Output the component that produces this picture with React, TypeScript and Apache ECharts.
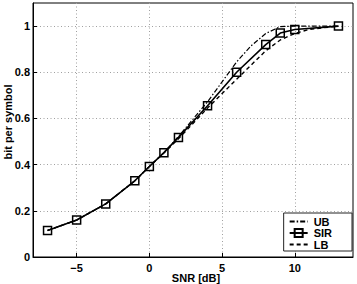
import React, { useEffect, useRef } from "react";
import * as echarts from "echarts";

const snr = [-7, -5, -3, -1, 0, 1, 2, 4, 6, 8, 9, 10, 13];
const sirValues = [0.115, 0.16, 0.23, 0.33, 0.392, 0.452, 0.518, 0.655, 0.8, 0.92, 0.97, 0.985, 1.0];
const ubSnr = [-7, -5, -3, -1, 0, 1, 2, 4, 6, 7, 8, 9, 10, 13];
const ubValues = [0.115, 0.16, 0.23, 0.33, 0.392, 0.452, 0.522, 0.672, 0.845, 0.915, 0.968, 0.998, 1.0, 1.0];
const lbSnr = [-7, -5, -3, -1, 0, 1, 2, 4, 6, 8, 9, 10, 11, 13];
const lbValues = [0.115, 0.16, 0.23, 0.33, 0.392, 0.45, 0.512, 0.645, 0.77, 0.893, 0.94, 0.968, 0.986, 1.0];
const xTicks = [-5, 0, 5, 10];
const yTicks = [0, 0.2, 0.4, 0.6, 0.8, 1];

const FONT = "Liberation Sans";

export default function App() {
  const ref = useRef<HTMLDivElement>(null);
  useEffect(() => {
    if (!ref.current) return;
    const chart = echarts.init(ref.current, null, { renderer: "svg" });
    const pair = (xs: number[], ys: number[]) => xs.map((x, i) => [x, ys[i]]);
    const gridLine = { show: true, lineStyle: { color: "#a0a0a0", width: 1, type: [1, 2.5] as any } };
    chart.setOption({
      animation: false,
      backgroundColor: "#fff",
      textStyle: { fontFamily: FONT },
      grid: {
        left: 33,
        right: 4,
        top: 3,
        bottom: 27,
        containLabel: false,
        outerBoundsMode: "none",
        show: true,
        borderColor: "#000",
        borderWidth: 1,
      },
      xAxis: {
        type: "value",
        min: -8,
        max: 14,
        name: "SNR [dB]",
        nameLocation: "middle",
        nameGap: 15,
        nameMoveOverlap: false,
        nameTextStyle: { fontFamily: FONT, fontWeight: "bold", fontSize: 11, color: "#000", verticalAlign: "top", padding: [0, 0, 0, 6] },
        axisLine: { show: true, onZero: false, lineStyle: { color: "#000", width: 1 } },
        axisTick: { show: true, inside: true, length: 4, customValues: xTicks, lineStyle: { color: "#000" } },
        axisLabel: {
          customValues: xTicks,
          margin: 5,
          fontFamily: FONT,
          fontWeight: "bold",
          fontSize: 11,
          color: "#000",
          formatter: (v: number) => (v < 0 ? "\u2212" + Math.abs(v) : String(v)),
        },
        splitLine: gridLine,
      },
      yAxis: {
        type: "value",
        min: 0,
        max: 1.1,
        name: "bit per symbol",
        nameLocation: "middle",
        nameGap: 20,
        nameMoveOverlap: false,
        nameTextStyle: { fontFamily: FONT, fontWeight: "bold", fontSize: 11, color: "#000", padding: [0, 0, 0, 16] },
        axisLine: { show: true, onZero: false, lineStyle: { color: "#000", width: 1 } },
        axisTick: { show: true, inside: true, length: 4, customValues: yTicks, lineStyle: { color: "#000" } },
        axisLabel: {
          customValues: yTicks,
          margin: 3,
          fontFamily: FONT,
          fontWeight: "bold",
          fontSize: 11,
          color: "#000",
        },
        splitLine: gridLine,
      },
      legend: {
        data: ["UB", "SIR", "LB"],
        orient: "vertical",
        right: 5,
        bottom: 33,
        backgroundColor: "#fff",
        borderColor: "#222",
        borderWidth: 1,
        borderRadius: 0,
        padding: [3, 20, 1, 5],
        itemGap: 0.5,
        itemWidth: 18,
        itemHeight: 10,
        textStyle: { fontFamily: FONT, fontWeight: "bold", fontSize: 11, color: "#000", padding: [0, 0, 0, 1] },
      },
      series: [
        {
          name: "UB",
          type: "line",
          data: pair(ubSnr, ubValues),
          showSymbol: false,
          symbol: "none",
          z: 3,
          lineStyle: { color: "#000", width: 1.2, type: [5, 2, 1.5, 2] },
          itemStyle: { color: "rgba(0,0,0,0)", borderColor: "rgba(0,0,0,0)" },
        },
        {
          name: "SIR",
          type: "line",
          data: pair(snr, sirValues),
          symbol: "rect",
          symbolSize: 8,
          z: 4,
          lineStyle: { color: "#000", width: 1.6 },
          itemStyle: { color: "rgba(255,255,255,0)", borderColor: "#000", borderWidth: 1.5 },
        },
        {
          name: "LB",
          type: "line",
          data: pair(lbSnr, lbValues),
          showSymbol: false,
          symbol: "none",
          z: 3,
          lineStyle: { color: "#000", width: 1.4, type: [4, 3] },
          itemStyle: { color: "rgba(0,0,0,0)", borderColor: "rgba(0,0,0,0)" },
        },
      ],
    });
    return () => chart.dispose();
  }, []);
  return <div ref={ref} style={{ width: 357, height: 284, position: "absolute", left: 0, top: 0 }} />;
}
